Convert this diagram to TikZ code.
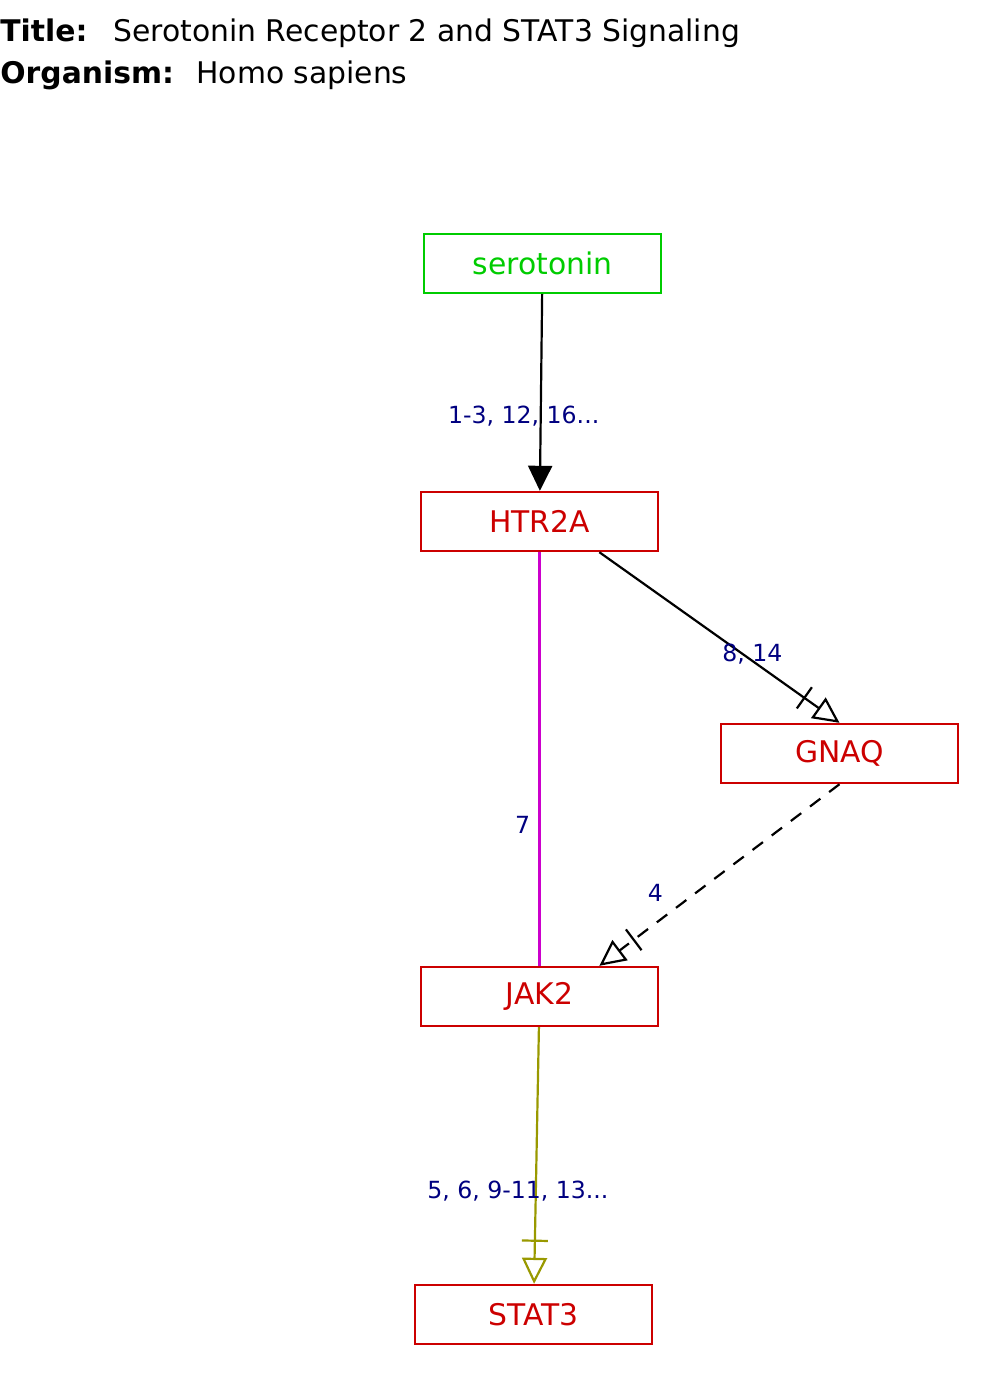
\documentclass[tikz,border=0pt]{standalone}
\usepackage{fontspec}
\setmainfont{DejaVu Sans}
\usetikzlibrary{arrows.meta,calc}
\definecolor{NodeGreen}{HTML}{00CC00}
\definecolor{NodeRed}{HTML}{CC0000}
\definecolor{LabelNavy}{HTML}{000080}
\definecolor{EdgeMagenta}{HTML}{CC00CC}
\definecolor{EdgeOlive}{HTML}{999900}

\begin{document}
\begin{tikzpicture}[
    x=0.5pt, y=-0.5pt,
    entity/.style={draw, line width=1.2pt, minimum width=118.5pt, minimum height=29.5pt,
      inner sep=0pt, font=\fontsize{14.9}{17}\selectfont},
    chem/.style={entity, draw=NodeGreen, text=NodeGreen},
    gene/.style={entity, draw=NodeRed, text=NodeRed},
    elabel/.style={text=LabelNavy, font=\fontsize{11.8}{14}\selectfont, inner sep=0pt},
    head/.style={anchor=base west, inner sep=0pt, font=\fontsize{14.9}{17}\selectfont},
    link/.style={line width=1.1pt},
    stim/.style={link, -{Triangle[length=12.5pt, width=12pt]}},
    conv/.style={link, -{Bar[width=13pt, sep=8pt] Triangle[open, length=13pt, width=12.5pt]}}
  ]
    \useasboundingbox (0,0) rectangle (1000,1386);
    % header
    \node[head] (title) at (0,42) {\textbf{Title:}};
    \node[head] (titletext) at (113,42) {Serotonin Receptor 2 and STAT3 Signaling};
    \node[head] (org) at (0,84) {\textbf{Organism:}};
    \node[head] (orgtext) at (196,84) {Homo sapiens};
    % entities
    \node[chem] (sero) at (542.5,263.5) {serotonin};
    \node[gene] (htr) at (539.5,521.5) {HTR2A};
    \node[gene] (gnaq) at (839.5,753.5) {GNAQ};
    \node[gene] (jak) at (539.5,996.5) {JAK2};
    \node[gene] (stat) at (533.5,1314.5) {STAT3};
    % interactions
    \draw[stim] (sero) -- (htr)
      node[elabel, pos=0.62, xshift=-8.5pt] {1-3, 12, 16...};
    \draw[conv] ($(htr.south)!0.5!(htr.south east)$) -- (gnaq.north)
      node[elabel, pos=0.6, xshift=4.5pt] {8, 14};
    \draw[conv, dash pattern=on 6.5pt off 5.5pt] (gnaq.south) -- ($(jak.north)!0.5!(jak.north east)$)
      node[elabel, pos=0.6, xshift=-20pt] {4};
    \draw[link, EdgeMagenta] (htr) -- (jak)
      node[elabel, pos=0.66, xshift=-8.5pt] {7};
    \draw[conv, EdgeOlive] (jak) -- (stat)
      node[elabel, pos=0.64, xshift=-9pt] {5, 6, 9-11, 13...};
  \end{tikzpicture}
\end{document}
